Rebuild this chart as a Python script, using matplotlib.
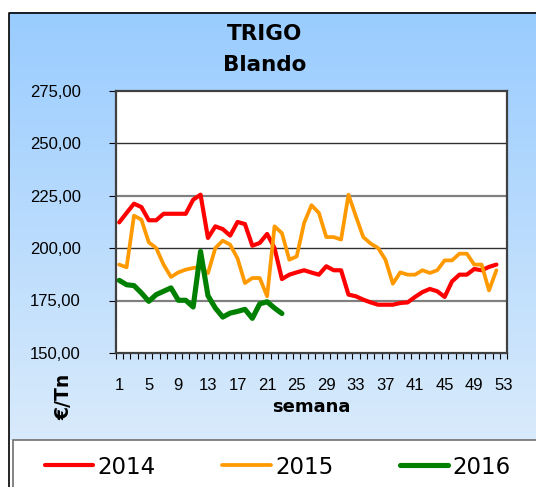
import numpy as np
import matplotlib
matplotlib.use("Agg")
from matplotlib import pyplot as plt
from matplotlib.patches import Rectangle
from matplotlib.ticker import FixedLocator, FuncFormatter

# weekly price of soft wheat (EUR/t)
semanas = np.arange(1, 54)
precio_2014 = [212.2, 216.7, 221.1, 219.5, 213.2, 213.2, 216.3, 216.3, 216.3, 216.3,
               223.0, 225.4, 204.8, 210.3, 209.0, 205.9, 212.4, 211.4, 201.1, 202.4,
               206.7, 200.0, 185.2, 187.3, 188.4, 189.4, 188.3, 187.3, 191.3, 189.4,
               189.4, 177.8, 177.0, 175.4, 174.1, 173.0, 173.0, 173.0, 173.8, 174.1,
               176.7, 179.0, 180.5, 179.4, 176.7, 184.1, 187.3, 187.3, 190.0, 189.4,
               191.0, 192.1]
precio_2015 = [192.1, 190.8, 215.4, 213.5, 202.7, 200.0, 192.1, 186.2, 188.4, 189.7,
               190.5, 191.0, 188.0, 200.0, 203.5, 201.6, 195.0, 183.3, 185.7, 185.7,
               177.0, 210.3, 207.1, 194.4, 196.0, 211.9, 220.4, 216.7, 205.2, 205.2,
               204.0, 225.4, 215.1, 205.2, 202.1, 200.0, 194.4, 183.0, 188.4, 187.3,
               187.3, 189.4, 188.1, 189.4, 194.1, 194.1, 197.3, 197.3, 192.1, 192.1,
               179.8, 189.4]
precio_2016 = [184.6, 182.5, 182.1, 178.6, 174.6, 177.8, 179.4, 181.0, 175.1, 175.1,
               171.9, 198.4, 177.3, 171.4, 167.1, 169.0, 169.8, 170.8, 166.5, 173.4,
               174.4, 171.4, 168.8]
series = [("2014", precio_2014, "#ff0000", 3.0),
          ("2015", precio_2015, "#ff9900", 2.7),
          ("2016", precio_2016, "#008000", 3.7)]
y_ticks = [150, 175, 200, 225, 250, 275]
x_labels = list(range(1, 54, 4))

W, H = 536, 487
fig = plt.figure(figsize=(W / 100, H / 100), dpi=100)

# background: blue gradient panel with frame and white legend box
bg = fig.add_axes([0, 0, 1, 1], zorder=-10)
grad = np.linspace(0, 1, 256)[:, None, None]
top = np.array([0.60, 0.80, 1.0])
bot = np.array([0.85, 0.92, 0.985])
img = top * (1 - grad) + bot * grad
bg.imshow(np.repeat(img, 2, axis=1), extent=[8.5, W, 440, 12.5], aspect="auto")
bg.add_patch(Rectangle((12.5, 440), W, 60, facecolor="white", edgecolor="#707070", lw=1.2))
bg.plot([8.5, 8.5, W], [H, 12.5, 12.5], color="black", lw=1.2)
bg.set_xlim(0, W)
bg.set_ylim(H, 0)
bg.axis("off")

ax = fig.add_axes([115.5 / W, (H - 353) / H, 392 / W, 262.5 / H])
ax.set_facecolor("white")
for name, vals, col, lw in series:
    ax.plot(semanas[:len(vals)], vals, color=col, lw=lw, label=name,
            solid_joinstyle="round", solid_capstyle="round")

ax.set_xlim(0.5, 53.5)
ax.set_ylim(150, 275)
ax.set_yticks(y_ticks)
ax.yaxis.set_major_formatter(FuncFormatter(lambda v, p: f"{v:.2f}".replace(".", ",")))
for v in y_ticks[1:-1]:
    if v in (200, 250):
        ax.axhline(v, color="#303030", lw=1.0, zorder=0)
    else:
        ax.axhline(v, color="#808080", lw=1.6, zorder=0)
ax.xaxis.set_major_locator(FixedLocator(x_labels))
ax.xaxis.set_minor_locator(FixedLocator(np.arange(0.5, 54, 1)))
ax.tick_params(axis="x", which="major", length=0, pad=18, labelsize=12)
ax.tick_params(axis="x", which="minor", length=4, width=0.8, direction="out")
ax.tick_params(axis="y", length=5, width=0.8, direction="out", pad=20, labelsize=12)
for lab in ax.get_xticklabels() + ax.get_yticklabels():
    lab.set_fontfamily("Liberation Sans")
for sp in ax.spines.values():
    sp.set_color("#404040")
    sp.set_linewidth(1.6)

fig.text(265 / W, 1 - 34 / H, "TRIGO", ha="center", va="center", fontsize=15.5,
         fontweight="bold")
fig.text(265 / W, 1 - 65 / H, "Blando", ha="center", va="center", fontsize=15.5,
         fontweight="bold")
fig.text(311 / W, 1 - 407 / H, "semana", ha="center", va="center", fontsize=13,
         fontweight="bold")
fig.text(64 / W, 1 - 397 / H, "€/Tn", ha="center", va="center", fontsize=13.5,
         fontweight="bold", rotation=90)

fig.legend(loc="center", bbox_to_anchor=(278 / W, 1 - 467 / H), ncol=3, frameon=False,
           fontsize=16.5, handlelength=2.1, handletextpad=0.2, columnspacing=2.9)

fig.savefig("out.png", dpi=100)
